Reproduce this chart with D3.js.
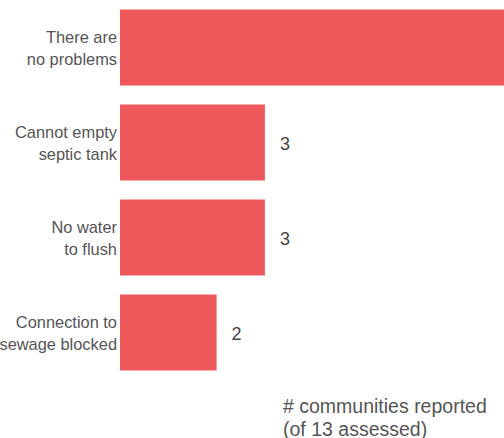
<!DOCTYPE html>
<html><head><meta charset="utf-8">
<script src="https://cdn.jsdelivr.net/npm/d3@7"></script>
<style>body{margin:0;background:#fff;} svg{display:block;}</style>
</head><body>
<svg id="chart" width="504" height="438"></svg>
<script>
const categories = [["There are","no problems"],["Cannot empty","septic tank"],["No water","to flush"],["Connection to","sewage blocked"]];
const values = [8, 3, 3, 2];
const annotation = ["# communities reported", "(of 13 assessed)"];

const svg = d3.select("#chart");
const font = "'Liberation Sans', Arial, sans-serif";
const x = d3.scaleLinear().domain([0, 1]).range([120, 168.3]);
const y = d3.scaleBand().domain(d3.range(categories.length)).range([0, 380]).paddingInner(0.2).paddingOuter(0.1);

svg.selectAll("rect.bar").data(values).join("rect")
  .attr("class","bar")
  .attr("x", x(0))
  .attr("y", (d,i)=>y(i))
  .attr("width", d=>x(d)-x(0))
  .attr("height", y.bandwidth())
  .attr("fill", "#EE585A");

svg.selectAll("text.val").data(values).join("text")
  .attr("class","val")
  .attr("x", d=>x(d)+15)
  .attr("y", (d,i)=>y(i)+y.bandwidth()/2+7)
  .attr("font-family", font).attr("font-size", 18).attr("fill","#444")
  .text(d=>d);

const lab = svg.selectAll("text.lab").data(categories).join("text")
  .attr("class","lab")
  .attr("text-anchor","end")
  .attr("font-family", font).attr("font-size", 16.4).attr("fill","#555");
lab.each(function(d,i){
  const t = d3.select(this);
  const cy = y(i)+y.bandwidth()/2;
  d.forEach((line,j)=>{
    t.append("tspan").attr("x",117).attr("y", cy - 5 + j*22).text(line);
  });
});

const ann = svg.append("text").attr("font-family", font).attr("font-size", 19.5).attr("fill","#555");
annotation.forEach((line,j)=>{
  ann.append("tspan").attr("x",283).attr("y",413 + j*23).text(line);
});
</script>
</body></html>
